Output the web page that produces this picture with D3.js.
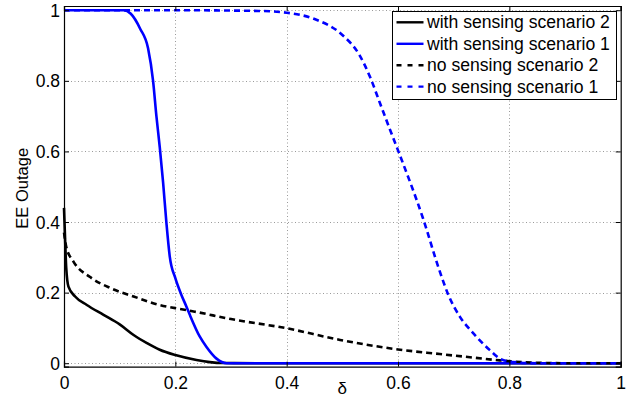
<!DOCTYPE html>
<html><head><meta charset="utf-8">
<script src="https://cdn.jsdelivr.net/npm/d3@7"></script>
<style>
body{margin:0;background:#fff;}
svg{display:block;font-family:"Liberation Sans",Arial,Helvetica,sans-serif;}
</style></head>
<body>
<svg id="chart" width="644" height="408"></svg>
<script>
// ---- data ----
const deltaWS2 = [0, 0.002, 0.004, 0.008, 0.02, 0.041, 0.071, 0.10, 0.125, 0.149, 0.172, 0.2, 0.238, 0.262, 0.286, 0.35, 0.5, 0.75, 1];
const withSensing2 = [0.44, 0.35, 0.27, 0.217, 0.189, 0.165, 0.137, 0.11, 0.08, 0.057, 0.038, 0.023, 0.009, 0.003, 0.0005, 0, 0, 0, 0];

const deltaWS1 = [0, 0.05, 0.107, 0.12, 0.137, 0.151, 0.16, 0.166, 0.172, 0.178, 0.184, 0.19, 0.2, 0.21, 0.22, 0.226, 0.244, 0.256, 0.274, 0.292, 0.4, 0.6, 0.8, 1];
const withSensing1 = [1, 1, 1, 0.99, 0.947, 0.892, 0.80, 0.70, 0.612, 0.512, 0.397, 0.302, 0.241, 0.197, 0.16, 0.137, 0.075, 0.046, 0.013, 0, 0, 0, 0, 0];

const deltaNS2 = [0, 0.004, 0.017, 0.047, 0.083, 0.125, 0.172, 0.2, 0.235, 0.3, 0.4, 0.496, 0.6, 0.675, 0.735, 0.783, 0.825, 0.9, 1];
const noSensing2 = [0.37, 0.33, 0.288, 0.244, 0.213, 0.189, 0.165, 0.156, 0.146, 0.125, 0.099, 0.066, 0.039, 0.026, 0.016, 0.008, 0.003, 0, 0];

const deltaNS1 = [0, 0.2, 0.35, 0.4, 0.45, 0.5, 0.53, 0.55, 0.568, 0.586, 0.6, 0.645, 0.675, 0.69, 0.711, 0.735, 0.765, 0.783, 0.807, 0.85, 1];
const noSensing1 = [1, 1, 0.998, 0.993, 0.975, 0.93, 0.875, 0.81, 0.735, 0.66, 0.603, 0.41, 0.26, 0.195, 0.132, 0.085, 0.037, 0.013, 0.003, 0, 0];

const xTicks = [0, 0.2, 0.4, 0.6, 0.8, 1];
const yTicks = [0, 0.2, 0.4, 0.6, 0.8, 1];
const xTickLabels = ["0", "0.2", "0.4", "0.6", "0.8", "1"];
const yTickLabels = ["0", "0.2", "0.4", "0.6", "0.8", "1"];
const seriesNames = ["with sensing scenario 2", "with sensing scenario 1", "no sensing scenario 2", "no sensing scenario 1"];

// ---- layout ----
const L = 64, R = 620.7, T = 6, B = 366.6;
const svg = d3.select("#chart");
const x = d3.scaleLinear().domain([0, 1]).range([L, R]);
const y = d3.scaleLinear().domain([-0.0096, 1.012]).range([B, T]);

// grid
const grid = svg.append("g").attr("stroke", "#9a9a9a").attr("stroke-width", 1).attr("stroke-dasharray", "1,2.5");
grid.selectAll("line.gx").data(xTicks.slice(1, -1)).join("line")
  .attr("x1", d => Math.round(x(d)) + 0.5).attr("x2", d => Math.round(x(d)) + 0.5)
  .attr("y1", T).attr("y2", B);
grid.selectAll("line.gy").data(yTicks).join("line")
  .attr("y1", d => Math.round(y(d)) + 0.5).attr("y2", d => Math.round(y(d)) + 0.5)
  .attr("x1", L).attr("x2", R);

// series
const series = [
  {dx: deltaWS2, v: withSensing2, color: "#000", dash: null},
  {dx: deltaWS1, v: withSensing1, color: "#0000ff", dash: null},
  {dx: deltaNS2, v: noSensing2, color: "#000", dash: "6,4"},
  {dx: deltaNS1, v: noSensing1, color: "#0000ff", dash: "6,4"}
];
const line = d3.line().x(d => x(d[0])).y(d => y(d[1])).curve(d3.curveMonotoneX);
const plot = svg.append("g");
series.forEach(s => {
  plot.append("path")
    .attr("d", line(s.dx.map((d, i) => [d, s.v[i]])))
    .attr("fill", "none").attr("stroke", s.color).attr("stroke-width", 2.6)
    .attr("stroke-dasharray", s.dash).attr("stroke-linejoin", "round");
});

// axes (box with inward ticks)
const axB = svg.append("g").attr("transform", `translate(0,${B})`)
  .call(d3.axisBottom(x).tickValues(xTicks).tickSize(-5).tickFormat((d, i) => xTickLabels[i]).tickPadding(10));
const axT = svg.append("g").attr("transform", `translate(0,${T})`)
  .call(d3.axisTop(x).tickValues(xTicks).tickSize(-5).tickFormat(""));
const axL = svg.append("g").attr("transform", `translate(${L},0)`)
  .call(d3.axisLeft(y).tickValues(yTicks).tickSize(-5).tickFormat((d, i) => yTickLabels[i]).tickPadding(4));
const axR = svg.append("g").attr("transform", `translate(${R},0)`)
  .call(d3.axisRight(y).tickValues(yTicks).tickSize(-5).tickFormat(""));
[axB, axT, axL, axR].forEach(a => {
  a.select(".domain").attr("stroke", "#000").attr("stroke-width", 1.2);
  a.selectAll(".tick line").attr("stroke", "#000");
  a.selectAll("text").attr("font-size", 17.5).attr("fill", "#000")
    .attr("font-family", "'Liberation Sans',Arial,Helvetica,sans-serif");
});
axL.selectAll("text").attr("dy", "0.35em");

// axis titles
svg.append("text").attr("x", x(0.5)).attr("y", 394).attr("text-anchor", "middle")
  .attr("font-size", 17).text("δ");
svg.append("text").attr("transform", `translate(28,${(T + B) / 2 + 2}) rotate(-90)`)
  .attr("text-anchor", "middle").attr("font-size", 16.5).text("EE Outage");

// legend
const lg = svg.append("g");
lg.append("rect").attr("x", 392.5).attr("y", 11.5).attr("width", 224).attr("height", 88)
  .attr("fill", "#fff").attr("stroke", "#000").attr("stroke-width", 1);
const rowY = [22.3, 43.8, 65.2, 86.6];
series.forEach((s, i) => {
  lg.append("line").attr("x1", 396.5).attr("x2", 423.5).attr("y1", rowY[i]).attr("y2", rowY[i])
    .attr("stroke", s.color).attr("stroke-width", 2.4).attr("stroke-dasharray", s.dash ? "5,6" : null);
  lg.append("text").attr("x", 427).attr("y", rowY[i]).attr("dy", "0.35em")
    .attr("font-size", 17.6).text(seriesNames[i]);
});
</script>
</body></html>
